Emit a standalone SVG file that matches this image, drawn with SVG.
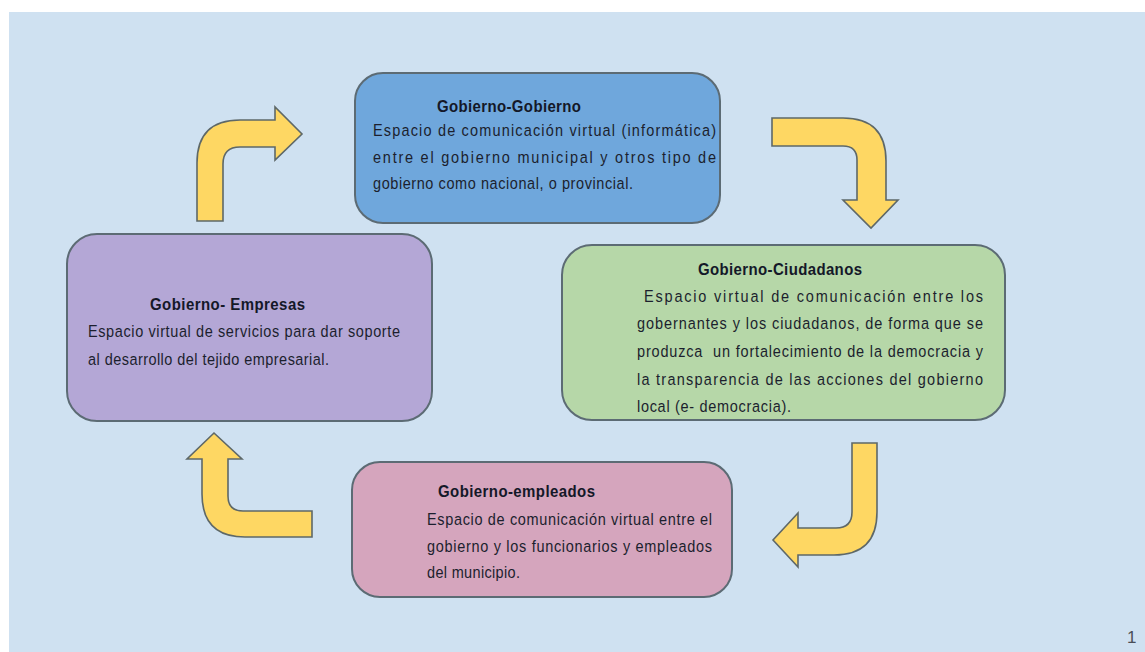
<svg xmlns="http://www.w3.org/2000/svg" width="1145" height="652" viewBox="0 0 1145 652">
<style>
.box{stroke:#5c6b74;stroke-width:2}
.arr{fill:#fed763;stroke:#5e6868;stroke-width:1.6;stroke-linejoin:miter}
.t{font-family:"Liberation Sans",Arial,sans-serif;font-size:15px;font-weight:bold;fill:#141828}
.b{font-family:"Liberation Sans",Arial,sans-serif;font-size:14.5px;fill:#1c1f2e}
.pg{font-family:"Liberation Sans",Arial,sans-serif;font-size:17px;fill:#4a4f58}
</style>
<rect x="0" y="0" width="1145" height="652" fill="#ffffff"/>
<rect x="9" y="12" width="1136" height="640" fill="#cfe1f1"/>

<g id="connectors">
<path class="arr" d="M197,221 L197,163 Q197,120 240,120 L275,120 L275,107 L302,134 L275,160 L275,147 L240,147 Q223,147 223,164 L223,221 Z"/>
<path class="arr" d="M772,118 L843,118 Q886,118 886,161 L886,200 L898,200 L871,228 L843,200 L857,200 L857,160 Q857,146 843,146 L772,146 Z"/>
<path class="arr" d="M852,443 L877,443 L877,512 Q877,555 834,555 L798,555 L798,567 L773,540 L798,513 L798,528 L836,528 Q852,528 852,512 Z"/>
<path class="arr" d="M312,511 L312,537 L245,537 Q202,537 202,494 L202,459 L187,459 L214,433 L242,459 L228,459 L228,496 Q228,511 243,511 Z"/>
</g>

<g id="gobierno-gobierno">
<rect class="box" x="355" y="73" width="365" height="150" rx="28" fill="#6fa7dc"/>
<text class="t" transform="translate(437,112) scale(1,1.1)" textLength="144" lengthAdjust="spacing">Gobierno-Gobierno</text>
<text class="b" transform="translate(373,136) scale(1,1.2)" textLength="343" lengthAdjust="spacing">Espacio de comunicación virtual (informática)</text>
<text class="b" transform="translate(373,163) scale(1,1.2)" textLength="343" lengthAdjust="spacing">entre el gobierno municipal y otros tipo de</text>
<text class="b" transform="translate(373,189) scale(1,1.2)" textLength="260" lengthAdjust="spacing">gobierno como nacional, o provincial.</text>
</g>

<g id="gobierno-ciudadanos">
<rect class="box" x="562" y="245" width="443" height="175" rx="30" fill="#b6d7a8"/>
<text class="t" transform="translate(698,275) scale(1,1.1)" textLength="164" lengthAdjust="spacing">Gobierno-Ciudadanos</text>
<text class="b" transform="translate(644,302) scale(1,1.2)" textLength="339" lengthAdjust="spacing">Espacio virtual de comunicación entre los</text>
<text class="b" transform="translate(637,329) scale(1,1.2)" textLength="346" lengthAdjust="spacing">gobernantes y los ciudadanos, de forma que se</text>
<text class="b" transform="translate(637,357) scale(1,1.2)" textLength="346" lengthAdjust="spacing" xml:space="preserve" style="white-space:pre">produzca  un fortalecimiento de la democracia y</text>
<text class="b" transform="translate(637,385) scale(1,1.2)" textLength="346" lengthAdjust="spacing">la transparencia de las acciones del gobierno</text>
<text class="b" transform="translate(637,412) scale(1,1.2)" textLength="154" lengthAdjust="spacing">local (e- democracia).</text>
</g>

<g id="gobierno-empleados">
<rect class="box" x="352" y="462" width="380" height="135" rx="28" fill="#d5a5bd"/>
<text class="t" transform="translate(438,497) scale(1,1.1)" textLength="157" lengthAdjust="spacing">Gobierno-empleados</text>
<text class="b" transform="translate(427,525) scale(1,1.2)" textLength="285" lengthAdjust="spacing">Espacio de comunicación virtual entre el</text>
<text class="b" transform="translate(427,552) scale(1,1.2)" textLength="285" lengthAdjust="spacing">gobierno y los funcionarios y empleados</text>
<text class="b" transform="translate(427,578) scale(1,1.2)" textLength="93" lengthAdjust="spacing">del municipio.</text>
</g>

<g id="gobierno-empresas">
<rect class="box" x="67" y="234" width="365" height="187" rx="30" fill="#b4a7d6"/>
<text class="t" transform="translate(150,310) scale(1,1.1)" textLength="155" lengthAdjust="spacing">Gobierno- Empresas</text>
<text class="b" transform="translate(88,337) scale(1,1.2)" textLength="312" lengthAdjust="spacing">Espacio virtual de servicios para dar soporte</text>
<text class="b" transform="translate(88,365) scale(1,1.2)" textLength="241" lengthAdjust="spacing">al desarrollo del tejido empresarial.</text>
</g>

<text class="pg" x="1127" y="643">1</text>
</svg>
